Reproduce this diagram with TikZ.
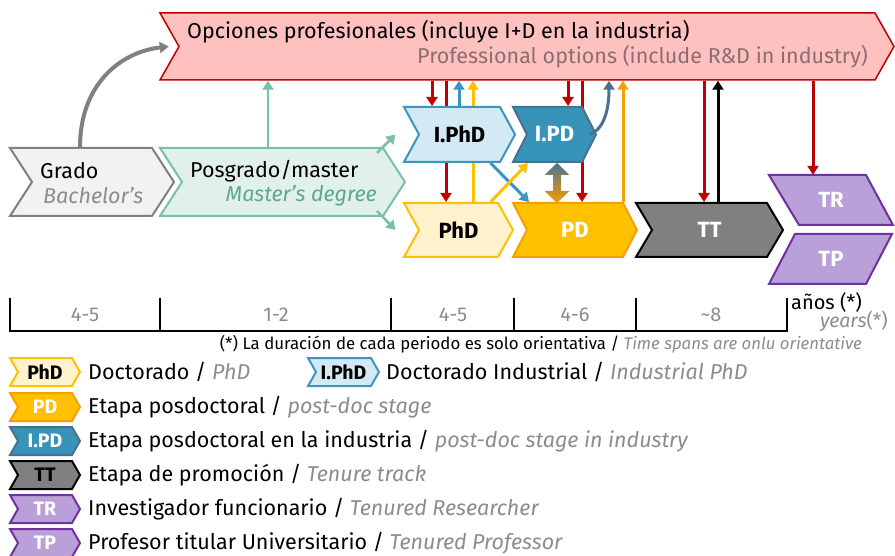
\documentclass[tikz,border=0pt]{standalone}
\usepackage{fontspec}
\setmainfont{Fira Sans}
\usetikzlibrary{arrows.meta,positioning}
\pgfdeclarelayer{background}
\pgfsetlayers{background,main}

\definecolor{optred}{HTML}{C00000}
\definecolor{optfill}{HTML}{FFC0C0}
\definecolor{opttext}{HTML}{8C6E70}
\definecolor{gradline}{HTML}{808080}
\definecolor{gradfill}{HTML}{F2F2F2}
\definecolor{mastline}{HTML}{78C0A8}
\definecolor{mastfill}{HTML}{E2F0EA}
\definecolor{masttext}{HTML}{5BAA8E}
\definecolor{iphdline}{HTML}{3A95C1}
\definecolor{iphdfill}{HTML}{D3E9F3}
\definecolor{ipdline}{HTML}{4A7090}
\definecolor{ipdfill}{HTML}{3893B8}
\definecolor{phdline}{HTML}{FFC000}
\definecolor{phdfill}{HTML}{FFF2CC}
\definecolor{pdline}{HTML}{F5A000}
\definecolor{tenline}{HTML}{7030A0}
\definecolor{tenfill}{HTML}{B9A0D8}
\definecolor{engtext}{HTML}{8C8C8C}

\tikzset{
  boxlabel/.style={inner sep=0pt, font=\bfseries\fontsize{22}{24}\selectfont},
  leglabel/.style={inner sep=0pt, font=\bfseries\fontsize{19.5}{21}\selectfont},
  optbox/.style={draw=optred, fill=optfill, line width=1.5pt},
  gradbox/.style={draw=gradline, fill=gradfill, line width=2pt},
  mastbox/.style={draw=mastline, fill=mastfill, line width=2pt},
  iphdbox/.style={draw=iphdline, fill=iphdfill, line width=2pt, text=black},
  ipdbox/.style={draw=ipdline, fill=ipdfill, line width=2pt, text=white},
  phdbox/.style={draw=phdline, fill=phdfill, line width=2pt, text=black},
  pdbox/.style={draw=pdline, fill=phdline, line width=2pt, text=white},
  ttbox/.style={draw=black, fill=gradline, line width=2pt, text=white},
  tenbox/.style={draw=tenline, fill=tenfill, line width=2pt, text=white},
  bigtext/.style={inner sep=0pt, font=\fontsize{21.5}{24}\selectfont},
  legtext/.style={inner sep=0pt, font=\fontsize{21.5}{24}\selectfont, anchor=west},
  spanlabel/.style={inner sep=0pt, text=engtext, font=\fontsize{20}{22}\selectfont},
  arr/.style={line width=3pt, -{Triangle[width=11pt,length=9pt]}},
  redarr/.style={arr, optred},
}

% chevron: style, name, left x, right x, top y, bottom y, depth, label
\newcommand{\chevbox}[8]{%
  \draw[#1] (#3,#5) -- (#4,#5) -- ({#4+#7},{(#5+#6)/2}) -- (#4,#6) -- (#3,#6)
    -- ({#3+#7},{(#5+#6)/2}) -- cycle;
  \node[boxlabel, #1, draw=none, fill=none, minimum width={#4-#3}, minimum height={#6-#5}]
    (#2) at ({(#3+#4)/2+#7/2},{(#5+#6)/2}) {#8};
}

\begin{document}
\begin{tikzpicture}[x=1pt,y=-1pt]
\useasboundingbox (0,0) rectangle (895,556);

% Career stages
\chevbox{optbox}{opc}{160}{875}{13}{80}{19}{}
\chevbox{gradbox}{grado}{10}{152}{148}{216}{22}{}
\chevbox{mastbox}{posg}{160}{383}{148}{216}{22}{}
\chevbox{iphdbox}{iphd}{404}{500}{107}{162}{15}{I.PhD}
\chevbox{ipdbox}{ipd}{513}{582}{107}{162}{14}{I.PD}
\chevbox{phdbox}{phd}{404}{498}{203}{257}{15}{PhD}
\chevbox{pdbox}{pd}{513}{623}{203}{257}{14}{PD}
\chevbox{ttbox}{tt}{636}{767}{203}{257}{16}{TT}

% Tenured positions
\draw[tenbox] (769,175) -- (866,175) -- (893,225) -- (799,225) -- cycle;
\node[boxlabel, text=white, minimum width=90, minimum height=50] (tr) at (831,200) {TR};
\draw[tenbox] (795,234) -- (892,234) -- (866,284) -- (769,284) -- cycle;
\node[boxlabel, text=white, minimum width=90, minimum height=50] (tp) at (831,259) {TP};

% Texts
\node[bigtext, anchor=west] (opces) at (187,32) {Opciones profesionales (incluye I+D en la industria)};
\node[bigtext, anchor=east, text=opttext] (opcen) at (868,57) {Professional options (include R\&D in industry)};
\node[bigtext, anchor=west] (gradoes) at (40,171) {Grado};
\node[bigtext, anchor=west, text=engtext] (gradoen) at (43,196) {\itshape Bachelor’s};
\node[bigtext, anchor=west] (posges) at (190,171) {Posgrado/master};
\node[bigtext, anchor=east, text=masttext] (posgen) at (377,196) {\itshape Master’s degree};

% Arrows behind the boxes
\begin{pgfonlayer}{background}
\draw[redarr] (opc.south -| 446,0) -- (phd.north -| 446,0);
\draw[arr, phdline] (phd.north -| 473,0) -- (opc.south -| 473,0);
\draw[redarr] (opc.south -| 582,0) -- (pd.north -| 582,0);
\end{pgfonlayer}

% Arrows
\draw[arr, gradline, line width=4pt] (grado.north -| 80,0) .. controls (80,85) and (120,52) .. (opc.west);
\draw[arr, mastline, line width=2.5pt] (posg.north -| 268,0) -- (opc.south -| 268,0);
\draw[arr, mastline, line width=2.5pt] ([shift={(-18,6)}]posg.north east) -- ([xshift=-15pt]iphd.west);
\draw[arr, mastline, line width=2.5pt] ([shift={(-18,-6)}]posg.south east) -- ([xshift=-15pt]phd.west);
\draw[redarr] (opc.south -| 432,0) -- (iphd.north -| 432,0);
\draw[arr, iphdline] (iphd.north -| 459,0) -- (opc.south -| 459,0);
\draw[arr, iphdline] ([xshift=-18pt]iphd.south east) -- ([xshift=10pt]pd.north west);
\draw[arr, phdline] ([xshift=-16pt]phd.north east) -- ([xshift=9pt]ipd.south west);
\shade[top color=ipdline, bottom color=pdline] (557,163) -- (569.5,175) -- (561,175) -- (561,191)
  -- (569.5,191) -- (557,203) -- (544.5,191) -- (553,191) -- (553,175) -- (544.5,175) -- cycle;
\draw[redarr] (opc.south -| 568,0) -- (ipd.north -| 568,0);
\draw[arr, ipdline] (ipd.east) .. controls (606,128) and (609,105) .. (opc.south -| 609,0);
\draw[arr, pdline] (pd.north -| 623,0) -- (opc.south -| 623,0);
\draw[redarr] (opc.south -| 704,0) -- (tt.north -| 704,0);
\draw[arr, black] (tt.north -| 718,0) -- (opc.south -| 718,0);
\draw[redarr] (opc.south -| 813,0) -- (tr.north -| 813,0);

% Time line
\draw[line width=2pt] (10,331) -- (787,331);
\foreach \x in {10,160,391,514,636,787}
  \draw[line width=1.5pt] (\x,298) -- (\x,332);
\foreach \x/\t in {85/4-5, 276/1-2, 453/4-5, 575/4-6, 711/\textasciitilde 8}
  \node[spanlabel] (span\x) at (\x,315) {\t};
\node[inner sep=0pt, anchor=west, font=\fontsize{20}{22}\selectfont] (anos) at (791,303) {años (*)};
\node[inner sep=0pt, anchor=east, text=engtext, font=\fontsize{19.5}{22}\selectfont] (years) at (888,321) {\itshape years\upshape(*)};
\node[inner sep=0pt, anchor=east, font=\fontsize{16.8}{18}\selectfont] (note) at (862,344)
  {(*) La duración de cada periodo es solo orientativa / \textcolor{engtext}{\itshape Time spans are onlu orientative}};

% Legend
\chevbox{phdbox, leglabel}{lgphd}{10}{72}{358}{386}{8}{PhD}
\chevbox{iphdbox, leglabel}{lgiphd}{308}{371}{358}{386}{8}{I.PhD}
\chevbox{pdbox, leglabel}{lgpd}{10}{72}{393}{421}{8}{PD}
\chevbox{ipdbox, leglabel}{lgipd}{10}{72}{427}{455}{8}{I.PD}
\chevbox{ttbox, leglabel, text=black}{lgtt}{10}{72}{461}{489}{8}{TT}
\chevbox{tenbox, leglabel}{lgtr}{10}{72}{495}{523}{8}{TR}
\chevbox{tenbox, leglabel}{lgtp}{10}{72}{529}{557}{8}{TP}

\node[legtext, right=11pt of lgphd] (tphd) {Doctorado / \textcolor{engtext}{\itshape PhD}};
\node[legtext, right=10pt of lgiphd] (tiphd) {Doctorado Industrial / \textcolor{engtext}{\itshape Industrial PhD}};
\node[legtext, right=11pt of lgpd] (tpd) {Etapa posdoctoral / \textcolor{engtext}{\itshape post-doc stage}};
\node[legtext, right=11pt of lgipd] (tipd) {Etapa posdoctoral en la industria / \textcolor{engtext}{\itshape post-doc stage in industry}};
\node[legtext, right=11pt of lgtt] (ttt) {Etapa de promoción / \textcolor{engtext}{\itshape Tenure track}};
\node[legtext, right=11pt of lgtr] (ttr) {Investigador funcionario / \textcolor{engtext}{\itshape Tenured Researcher}};
\node[legtext, right=11pt of lgtp] (ttp) {Profesor titular Universitario / \textcolor{engtext}{\itshape Tenured Professor}};
\end{tikzpicture}
\end{document}
